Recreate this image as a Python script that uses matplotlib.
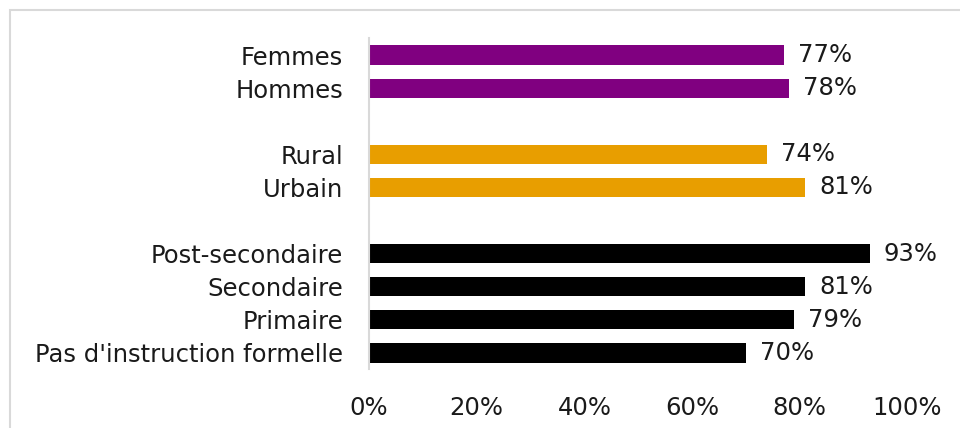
import matplotlib
matplotlib.use("Agg")
import matplotlib.pyplot as plt
from matplotlib.patches import Rectangle

# Data (top to bottom); None marks a blank spacer row between groups
labels = ["Femmes", "Hommes", "", "Rural", "Urbain", "",
          "Post-secondaire", "Secondaire", "Primaire", "Pas d'instruction formelle"]
values = [77, 78, None, 74, 81, None, 93, 81, 79, 70]
group_colors = ["#800080", "#800080", None, "#E89E00", "#E89E00", None,
                "#000000", "#000000", "#000000", "#000000"]
x_ticks = [0, 20, 40, 60, 80, 100]

plt.rcParams["font.family"] = ["DejaVu Sans"]

W, H = 960, 428
fig = plt.figure(figsize=(W / 100, H / 100), dpi=100)

# Light frame around the chart area
fig.patches.append(Rectangle((10 / W, -0.1), 1.2, 1 - 10 / H + 0.1,
                             transform=fig.transFigure, fill=False,
                             edgecolor="#d9d9d9", linewidth=1.5))

left, right, top, bottom = 369, 907.5, 38.5, 369.5
ax = fig.add_axes([left / W, 1 - bottom / H, (right - left) / W, (bottom - top) / H])

fs = 17.5
n = len(labels)
for i, (v, c) in enumerate(zip(values, group_colors)):
    if v is None:
        continue
    ax.barh(i, v, height=0.58, color=c, left=0)
    ax.text(v + 2.6, i, f"{v}%", va="center", ha="left", fontsize=fs, color="#1a1a1a")

ax.set_ylim(n - 0.5, -0.5)
ax.set_xlim(0, 100)
ax.set_yticks(range(n))
ax.set_yticklabels(labels, fontsize=fs, color="#1a1a1a")
ax.set_xticks(x_ticks)
ax.set_xticklabels([f"{t}%" for t in x_ticks], fontsize=fs, color="#1a1a1a")
ax.tick_params(axis="both", length=0)
ax.tick_params(axis="y", pad=18.7)
ax.tick_params(axis="x", pad=19)

for s in ["top", "right", "bottom"]:
    ax.spines[s].set_visible(False)
ax.spines["left"].set_color("#d9d9d9")
ax.spines["left"].set_linewidth(1.5)

fig.savefig("out.png", dpi=100)
